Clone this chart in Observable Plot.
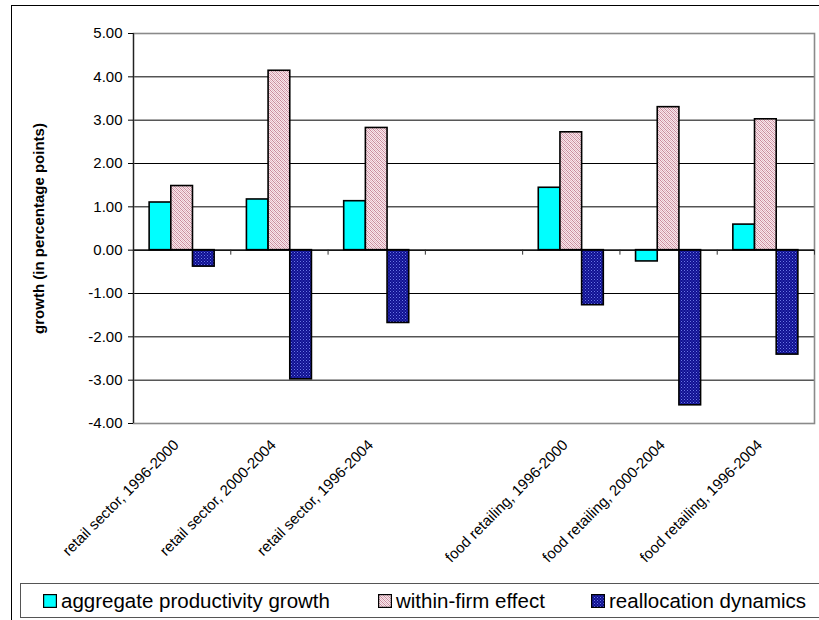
<!DOCTYPE html>
<html>
<head>
<meta charset="utf-8">
<script src="https://cdn.jsdelivr.net/npm/d3@7"></script>
<script src="https://cdn.jsdelivr.net/npm/@observablehq/plot@0.6"></script>
<style>
  html, body { margin: 0; padding: 0; background: #fff; overflow: hidden; }
  body { width: 819px; height: 620px; position: relative; font-family: "Liberation Sans", Arial, sans-serif; }
  #outer { position: absolute; left: 11px; top: 5px; width: 1000px; height: 1000px; border-left: 1.5px solid #000; border-top: 1.5px solid #000; box-sizing: border-box; }
  #chart { position: absolute; left: 0; top: 0; }
  #chart svg { font-family: "Liberation Sans", Arial, sans-serif; color: #000; }
  g[aria-label="y-axis label"] text { font-weight: bold; font-size: 15px; }
  #legend { position: absolute; left: 20px; top: 583px; width: 820px; height: 35px; border: 1.2px solid #555; box-sizing: border-box; background: #fff; }
  .item { position: absolute; top: 0; height: 33px; display: flex; align-items: center; font-size: 20.5px; color: #000; white-space: nowrap; }
  .item svg { margin-right: 4px; }
</style>
</head>
<body>
<div id="outer"></div>
<div id="chart"></div>
<div id="legend"></div>
<script>
// ---- data ----
const categories = [
  "retail sector, 1996-2000",
  "retail sector, 2000-2004",
  "retail sector, 1996-2004",
  "",
  "food retailing, 1996-2000",
  "food retailing, 2000-2004",
  "food retailing, 1996-2004"
];
const seriesNames = ["aggregate productivity growth", "within-firm effect", "reallocation dynamics"];
const aggregateGrowth = [1.10, 1.17, 1.13, null, 1.44, -0.26, 0.59];
const withinFirm = [1.48, 4.14, 2.82, null, 2.72, 3.30, 3.02];
const reallocation = [-0.38, -2.98, -1.68, null, -1.27, -3.58, -2.41];
const yTicks = [-4, -3, -2, -1, 0, 1, 2, 3, 4, 5];

// ---- styles ----
const fills = ["#00FFFF", "url(#pinkPat)", "url(#navyPat)"];
const groupPad = 0.1658, barW = 0.2228;

const seriesValues = [aggregateGrowth, withinFirm, reallocation];
const rows = seriesValues.map((vals, s) =>
  vals.map((v, i) => ({slot: i, s, value: v, series: seriesNames[s], category: categories[i]}))
      .filter(d => d.value != null)
);

const centers = categories.map((c, i) => c ? i + 0.5 : null).filter(d => d != null);
const bounds = categories.map((c, i) => i + 1);

const plot = Plot.plot({
  width: 819,
  height: 580,
  marginLeft: 133,
  marginRight: 5,
  marginTop: 33,
  marginBottom: 157,
  style: {fontSize: "15px", background: "transparent"},
  x: {domain: [0, categories.length], axis: null},
  y: {domain: [-4, 5], axis: null},
  marks: [
    Plot.ruleY(yTicks.filter(t => t > -4 && t < 5), {y: d => d, stroke: "#000", strokeWidth: 1}),
    Plot.frame({stroke: "#8a8a8a", strokeWidth: 1.6}),
    ...rows.map((r, s) => Plot.rectY(r, {
      x1: d => d.slot + groupPad + d.s * barW,
      x2: d => d.slot + groupPad + (d.s + 1) * barW,
      y1: 0,
      y2: "value",
      fill: fills[s],
      stroke: "#000",
      strokeWidth: 1.6
    })),
    Plot.ruleY([0], {stroke: "#000", strokeWidth: 1.2}),
    Plot.ruleX(bounds, {x: d => d, y1: 0, y2: 0, insetBottom: -5, stroke: "#333", strokeWidth: 1}),
    Plot.ruleX([0], {stroke: "#222", strokeWidth: 1.2}),
    Plot.axisY({
      ticks: yTicks,
      tickFormat: d => d.toFixed(2),
      tickSize: 5,
      tickPadding: 6,
      fontSize: 15,
      label: "growth (in percentage points)",
      labelAnchor: "center",
      labelArrow: "none",
      labelOffset: 100
    }),
    Plot.axisX({
      ticks: centers,
      tickFormat: d => categories[Math.floor(d)],
      tickRotate: -45,
      tickSize: 0,
      tickPadding: 19,
      dx: -6,
      fontSize: 15,
      label: null
    })
  ]
});

// patterns
const svg = d3.select(plot);
const defs = svg.insert("defs", ":first-child");
const pink = defs.append("pattern").attr("id", "pinkPat").attr("patternUnits", "userSpaceOnUse").attr("width", 4).attr("height", 4);
pink.append("rect").attr("width", 4).attr("height", 4).attr("fill", "#f7e8ec");
[[0,0],[1,1],[2,2],[3,3],[2,0],[3,1],[0,2],[1,3]].forEach(([x, y], k) => {
  pink.append("rect").attr("x", x).attr("y", y).attr("width", 1).attr("height", 1)
      .attr("fill", k < 4 ? "#c98a9c" : "#e2b5c2");
});
const navy = defs.append("pattern").attr("id", "navyPat").attr("patternUnits", "userSpaceOnUse").attr("width", 3).attr("height", 3);
navy.append("rect").attr("width", 3).attr("height", 3).attr("fill", "#101090");
navy.append("rect").attr("x", 0).attr("y", 0).attr("width", 1).attr("height", 1).attr("fill", "#6a78e6");
navy.append("rect").attr("x", 1.5).attr("y", 1.5).attr("width", 1).attr("height", 1).attr("fill", "#4a58d2");

document.getElementById("chart").appendChild(plot);

// legend
const legend = document.getElementById("legend");
const itemLeft = [22, 357, 570];
seriesNames.forEach((name, s) => {
  const div = document.createElement("div");
  div.className = "item";
  div.style.left = itemLeft[s] + "px";
  div.innerHTML = `<svg width="14" height="14"><rect x="0.6" y="0.6" width="12.8" height="12.8" fill="${fills[s]}" stroke="#000" stroke-width="1.2"/></svg><span>${name}</span>`;
  legend.appendChild(div);
});
</script>
</body>
</html>
